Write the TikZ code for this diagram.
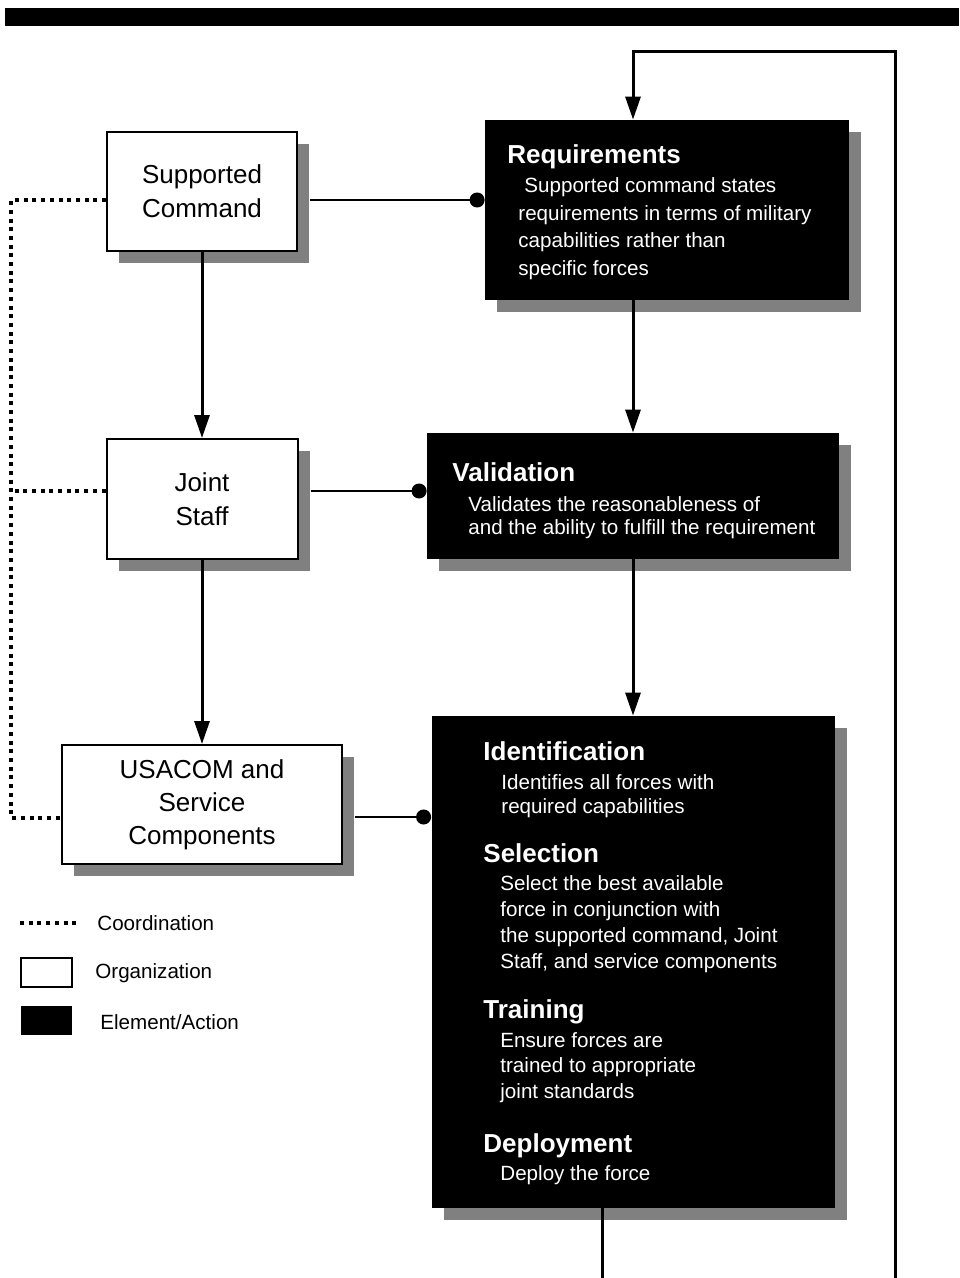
\documentclass[tikz,border=0pt]{standalone}
\usepackage{fontspec}
\setmainfont{Liberation Sans}
\usetikzlibrary{arrows.meta,shadows}
\newcommand{\lignes}[1]{\begin{tabular}[t]{@{}l@{}}#1\end{tabular}}

\begin{document}
\begin{tikzpicture}[x=0.5pt,y=-0.5pt,
	org/.style={draw,line width=1pt,fill=white,align=center,inner sep=0pt,
		font=\fontsize{13}{17}\selectfont,
		drop shadow={shadow xshift=6pt,shadow yshift=-6pt,fill=black!50,opacity=1}},
	act/.style={fill=black,inner sep=0pt,
		drop shadow={shadow xshift=6pt,shadow yshift=-6pt,fill=black!50,opacity=1}},
	titre/.style={anchor=base west,text=white,inner sep=0pt,font=\fontsize{13}{15}\selectfont\bfseries},
	texte/.style={anchor=base west,text=white,inner sep=0pt,font=\fontsize{10.3}{#1}\selectfont},
	texte/.default=12.5,
	flux/.style={line width=1.5pt,-{Triangle[length=11.5pt,width=7.5pt]}},
	lien/.style={line width=0.9pt,-{Circle[length=7.5pt]}},
	coordline/.style={line width=2pt,dash pattern=on 2pt off 2.35pt},
	legende/.style={anchor=base west,inner sep=0pt,font=\fontsize{10.3}{12}\selectfont}]
	\useasboundingbox (0,0) rectangle (959,1278);
%					Bandeau :
	\fill (5,8) rectangle (959,26);
%					Organisations :
	\node[org,minimum width=95pt,minimum height=59.5pt] (sc) at (202,191.5) {Supported\\Command};
	\node[org,minimum width=95.5pt,minimum height=60pt] (js) at (202,499) {Joint\\Staff};
	\node[org,minimum width=140pt,minimum height=59.5pt,font=\fontsize{13}{16.5}\selectfont] (us) at (202,804.5) {USACOM and\\Service\\Components};
%					Elements / actions :
	\node[act,minimum width=182pt,minimum height=90pt] (req) at (667,210) {};
	\node[act,minimum width=206pt,minimum height=63pt] (val) at (633,496) {};
	\node[act,minimum width=201.5pt,minimum height=246pt] (sel) at (633,962) {};
	\node[titre] (reqt) at (507,164) {Requirements};
	\node[texte=13.75] (reqx) at (518,193) {\lignes{\hspace*{3pt}Supported command states\\requirements in terms of military\\capabilities rather than\\specific forces}};
	\node[titre] (valt) at (452,481) {Validation};
	\node[texte=11.5] (valx) at (468,511) {\lignes{Validates the reasonableness of\\and the ability to fulfill the requirement}};
	\node[titre] (idt) at (483,760) {Identification};
	\node[texte=12] (idx) at (501,789) {\lignes{Identifies all forces with\\required capabilities}};
	\node[titre] (selt) at (483,862) {Selection};
	\node[texte=13.15] (selx) at (500,890) {\lignes{Select the best available\\force in conjunction with\\the supported command, Joint\\Staff, and service components}};
	\node[titre] (trt) at (483,1018) {Training};
	\node[texte=12.9] (trx) at (500,1047) {\lignes{Ensure forces are\\trained to appropriate\\joint standards}};
	\node[titre] (dpt) at (483,1152) {Deployment};
	\node[texte] (dpx) at (500,1180) {Deploy the force};
%					Liens organisations -> actions :
	\coordinate (scout) at ([shift={(12,8.5)}]sc.east);
	\coordinate (jsout) at ([shift={(12,-8)}]js.east);
	\coordinate (usout) at ([shift={(12,12.5)}]us.east);
	\draw[lien] (scout) -- (scout -| req.west);
	\draw[lien] (jsout) -- (jsout -| val.west);
	\draw[lien] (usout) -- (usout -| sel.west);
%					Flux :
	\draw[flux] (sc.south) -- (js.north);
	\draw[flux] (js.south) -- (us.north);
	\draw[flux] (req.south -| val.north) -- (val.north);
	\draw[flux] (val.south) -- (sel.north);
%					Boucle de retour :
	\coordinate (bas) at (602,1278);
	\coordinate (retour) at (895,1278);
	\coordinate (haut) at (895,52);
	\draw[line width=1.5pt] (sel.south -| bas) -- (bas);
	\draw[flux] (retour) -- (haut) -| (req.north -| val.north);
%					Coordination :
	\coordinate (rail) at (11,0);
	\coordinate (scin) at ([yshift=-4.5pt]sc.west);
	\coordinate (jsin) at ([yshift=4pt]js.west);
	\coordinate (usin) at ([yshift=-6.5pt]us.west);
	\draw[coordline] (scin) -- (scin -| rail) -- (usin -| rail) -- (usin);
	\draw[coordline] (jsin) -- (jsin -| rail);
%					Légende :
	\draw[coordline] (20,923) -- (76,923);
	\node[legende] (lc) at (97,930) {Coordination};
	\draw[line width=1pt] (21,958) rectangle (72,987);
	\node[legende] (lo) at (95,978) {Organization};
	\fill (21,1006) rectangle (72,1035);
	\node[legende] (le) at (100,1029) {Element/Action};
\end{tikzpicture}
\end{document}
